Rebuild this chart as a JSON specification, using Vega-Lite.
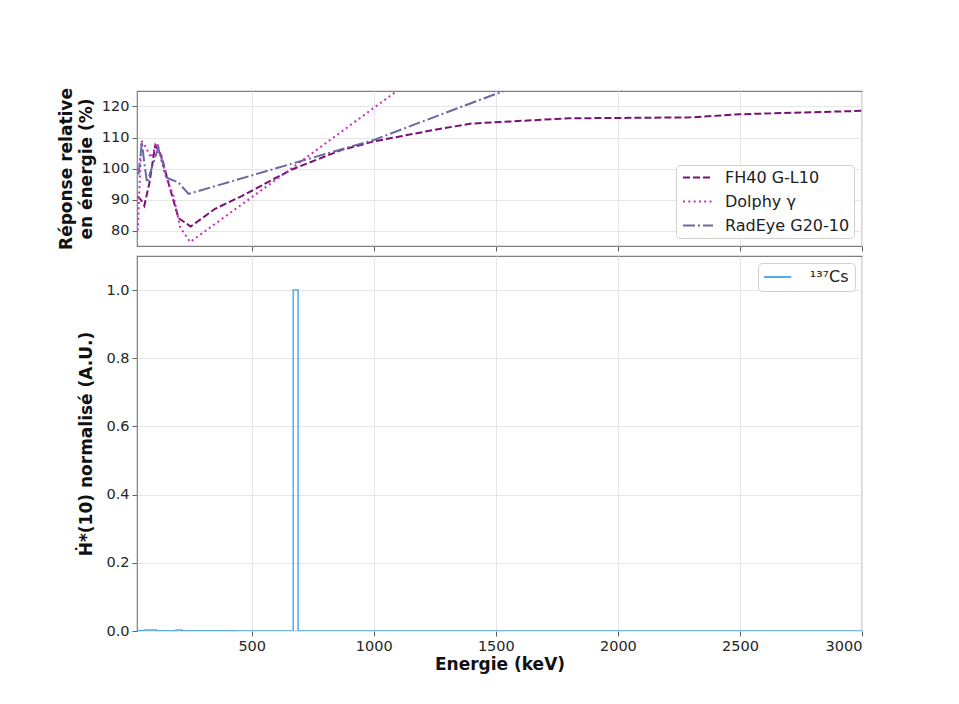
{
  "$schema": "https://vega.github.io/schema/vega-lite/v6.json",
  "background": "white",
  "padding": {"left": 56, "top": 86, "right": 5, "bottom": 5},
  "spacing": 2,
  "config": {
    "font": "DejaVu Sans",
    "view": {"stroke": "#808080", "strokeWidth": 1.2},
    "axis": {
      "labelFont": "DejaVu Sans", "labelFontSize": 14.5, "labelColor": "#262626",
      "titleFont": "DejaVu Sans", "titleFontSize": 17, "titleFontWeight": "bold", "titleColor": "#111111",
      "domain": false, "tickColor": "#606060", "tickSize": 5, "labelPadding": 3,
      "gridColor": "#e6e6e6", "gridWidth": 1
    },
    "legend": {
      "labelFont": "DejaVu Sans", "labelFontSize": 16, "labelColor": "#222222",
      "fillColor": "rgba(255,255,255,0.85)", "strokeColor": "#d0d0d0", "cornerRadius": 4,
      "rowPadding": 7, "symbolStrokeWidth": 2
    }
  },
  "resolve": {"scale": {"color": "independent", "strokeDash": "independent"}, "legend": {"color": "independent", "strokeDash": "independent"}},
  "vconcat": [
    {
      "width": 725,
      "height": 155,
      "data": {"values": [
        {"instrument": "FH40 G-L10", "energy": 33, "response": 91},
        {"instrument": "FH40 G-L10", "energy": 45, "response": 90},
        {"instrument": "FH40 G-L10", "energy": 60, "response": 88},
        {"instrument": "FH40 G-L10", "energy": 80, "response": 95},
        {"instrument": "FH40 G-L10", "energy": 105, "response": 107.5},
        {"instrument": "FH40 G-L10", "energy": 130, "response": 104},
        {"instrument": "FH40 G-L10", "energy": 160, "response": 95},
        {"instrument": "FH40 G-L10", "energy": 200, "response": 84},
        {"instrument": "FH40 G-L10", "energy": 250, "response": 81.3},
        {"instrument": "FH40 G-L10", "energy": 350, "response": 87},
        {"instrument": "FH40 G-L10", "energy": 459, "response": 91.1},
        {"instrument": "FH40 G-L10", "energy": 662, "response": 99.6},
        {"instrument": "FH40 G-L10", "energy": 868, "response": 106},
        {"instrument": "FH40 G-L10", "energy": 1004, "response": 108.8},
        {"instrument": "FH40 G-L10", "energy": 1250, "response": 112.5},
        {"instrument": "FH40 G-L10", "energy": 1400, "response": 114.5},
        {"instrument": "FH40 G-L10", "energy": 1800, "response": 116.2},
        {"instrument": "FH40 G-L10", "energy": 2000, "response": 116.3},
        {"instrument": "FH40 G-L10", "energy": 2300, "response": 116.5},
        {"instrument": "FH40 G-L10", "energy": 2500, "response": 117.5},
        {"instrument": "FH40 G-L10", "energy": 3000, "response": 118.6},
        {"instrument": "Dolphy γ", "energy": 33, "response": 80},
        {"instrument": "Dolphy γ", "energy": 48, "response": 109},
        {"instrument": "Dolphy γ", "energy": 65, "response": 107},
        {"instrument": "Dolphy γ", "energy": 88, "response": 103.5},
        {"instrument": "Dolphy γ", "energy": 112, "response": 108.3},
        {"instrument": "Dolphy γ", "energy": 145, "response": 98},
        {"instrument": "Dolphy γ", "energy": 180, "response": 91},
        {"instrument": "Dolphy γ", "energy": 207, "response": 81},
        {"instrument": "Dolphy γ", "energy": 248, "response": 76.3},
        {"instrument": "Dolphy γ", "energy": 662, "response": 100},
        {"instrument": "Dolphy γ", "energy": 1250, "response": 134},
        {"instrument": "RadEye G20-10", "energy": 36, "response": 98},
        {"instrument": "RadEye G20-10", "energy": 50, "response": 108.5},
        {"instrument": "RadEye G20-10", "energy": 58, "response": 103},
        {"instrument": "RadEye G20-10", "energy": 71, "response": 95.5},
        {"instrument": "RadEye G20-10", "energy": 118, "response": 106.8},
        {"instrument": "RadEye G20-10", "energy": 152, "response": 97},
        {"instrument": "RadEye G20-10", "energy": 200, "response": 95.5},
        {"instrument": "RadEye G20-10", "energy": 241, "response": 91.8},
        {"instrument": "RadEye G20-10", "energy": 662, "response": 101.5},
        {"instrument": "RadEye G20-10", "energy": 1000, "response": 109.2},
        {"instrument": "RadEye G20-10", "energy": 1345, "response": 119.5},
        {"instrument": "RadEye G20-10", "energy": 1600, "response": 127}
      ]},
      "mark": {"type": "line", "clip": true, "strokeWidth": 2},
      "encoding": {
        "x": {"field": "energy", "type": "quantitative", "scale": {"domain": [30, 3000], "nice": false, "zero": false},
              "axis": {"values": [500, 1000, 1500, 2000, 2500, 3000], "labels": false, "title": null}},
        "y": {"field": "response", "type": "quantitative", "scale": {"domain": [75, 125], "nice": false, "zero": false},
              "axis": {"values": [80, 90, 100, 110, 120], "title": ["Réponse relative", "en énergie (%)"], "titlePadding": 6, "titleLineHeight": 20}},
        "color": {"field": "instrument", "type": "nominal",
                  "scale": {"domain": ["FH40 G-L10", "Dolphy γ", "RadEye G20-10"], "range": ["#7a0e72", "#c52cc5", "#6a6aa0"]},
                  "legend": {"title": null, "orient": "bottom-right", "offset": 8, "padding": 4, "symbolType": "M-2,0H2", "symbolSize": 225, "labelOffset": 18.5, "symbolOffset": 9.5}},
        "strokeDash": {"field": "instrument", "type": "nominal",
                  "scale": {"domain": ["FH40 G-L10", "Dolphy γ", "RadEye G20-10"], "range": [[7, 3], [2, 3.3], [12, 3, 2, 3]]},
                  "legend": {"title": null, "orient": "bottom-right", "offset": 8, "padding": 4, "symbolType": "M-2,0H2", "symbolSize": 225, "labelOffset": 18.5, "symbolOffset": 9.5}}
      }
    },
    {
      "width": 725,
      "height": 375,
      "data": {"values": [
        {"source": "¹³⁷Cs", "energy": 30, "value": 0.001},
        {"source": "¹³⁷Cs", "energy": 60, "value": 0.003},
        {"source": "¹³⁷Cs", "energy": 110, "value": 0.001},
        {"source": "¹³⁷Cs", "energy": 190, "value": 0.003},
        {"source": "¹³⁷Cs", "energy": 215, "value": 0.001},
        {"source": "¹³⁷Cs", "energy": 330, "value": 0.0005},
        {"source": "¹³⁷Cs", "energy": 430, "value": 0.0003},
        {"source": "¹³⁷Cs", "energy": 670, "value": 1.0},
        {"source": "¹³⁷Cs", "energy": 690, "value": 0},
        {"source": "¹³⁷Cs", "energy": 3000, "value": 0}
      ]},
      "mark": {"type": "line", "interpolate": "step-after", "strokeWidth": 1.5, "clip": true},
      "encoding": {
        "x": {"field": "energy", "type": "quantitative", "scale": {"domain": [30, 3000], "nice": false, "zero": false},
              "axis": {"values": [500, 1000, 1500, 2000, 2500, 3000], "format": "d", "title": "Energie (keV)", "titlePadding": 4}},
        "y": {"field": "value", "type": "quantitative", "scale": {"domain": [0, 1.1], "nice": false},
              "axis": {"values": [0, 0.2, 0.4, 0.6, 0.8, 1.0], "format": ".1f", "title": "Ḣ*(10) normalisé (A.U.)", "titlePadding": 10}},
        "color": {"field": "source", "type": "nominal", "scale": {"range": ["#55aaf0"]},
                  "legend": {"title": null, "orient": "top-right", "offset": 7, "padding": 6, "symbolType": "M-2,0H2", "symbolSize": 182, "labelOffset": 24, "symbolOffset": 5.75}}
      }
    }
  ]
}
